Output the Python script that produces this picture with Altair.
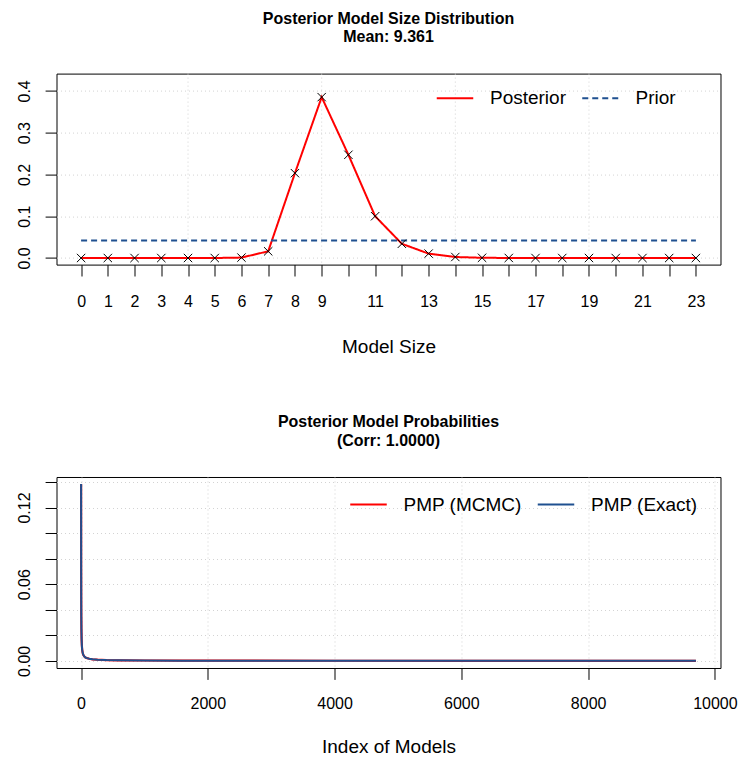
import altair as alt
import pandas as pd

FONT = "Liberation Sans"
RED = "#FF0000"
BLUE = "#1F5090"
GRID = "#D3D3D3"

# ---- posterior / prior model size distribution ----
model_size = list(range(24))
posterior = [0.0, 0.0, 0.0, 0.0, 0.0, 0.0, 0.001, 0.016, 0.203, 0.385, 0.247,
             0.100, 0.034, 0.0105, 0.0024, 0.0005, 0.0001, 0.0, 0.0, 0.0, 0.0,
             0.0, 0.0, 0.0]
prior = [0.0417, 0.0417, 0.0417, 0.0417, 0.0417, 0.0417, 0.0417, 0.0417,
         0.0417, 0.0417, 0.0417, 0.0417, 0.0417, 0.0417, 0.0417, 0.0417,
         0.0417, 0.0417, 0.0417, 0.0417, 0.0417, 0.0417, 0.0417, 0.0417]
size_ticks = list(range(24))
size_grid = [4, 9, 14, 19]
prob_ticks = [0.0, 0.1, 0.2, 0.3, 0.4]

# ---- posterior model probabilities (sorted by exact PMP) ----
model_index = [1, 2, 3, 4, 6, 9, 13, 18, 25, 35, 50, 70, 95, 130, 180, 260,
               400, 600, 1000, 1600, 2500, 4000, 6000, 8000, 9700]
pmp_mcmc = [0.1384, 0.0720, 0.0480, 0.0360, 0.0250, 0.0170, 0.0120, 0.0088,
            0.0065, 0.0048, 0.0035, 0.0026, 0.0021, 0.0016, 0.0012, 0.0009,
            0.0006, 0.0004, 0.00025, 0.00015, 0.0001, 0.00006, 0.00003,
            0.00002, 0.00001]
pmp_exact = [0.1384, 0.0720, 0.0480, 0.0360, 0.0250, 0.0170, 0.0120, 0.0088,
             0.0065, 0.0048, 0.0035, 0.0026, 0.0021, 0.0016, 0.0012, 0.0009,
             0.0006, 0.0004, 0.00025, 0.00015, 0.0001, 0.00006, 0.00003,
             0.00002, 0.00001]
index_ticks = [0, 2000, 4000, 6000, 8000, 10000]
pmp_ticks = [0.0, 0.02, 0.04, 0.06, 0.08, 0.10, 0.12, 0.14]

W, H = 664, 191

tick_style = dict(labelFont=FONT, labelFontSize=16, labelColor="black",
                  tickColor="black", tickSize=11.4, tickWidth=1, domain=False,
                  labelFlush=False, labelOverlap=False,
                  titleFont=FONT, titleFontSize=19, titleFontWeight="normal",
                  titleColor="black", gridColor=GRID, gridDash=[1, 3],
                  gridWidth=1)
y_style = dict(labelAngle=270, labelAlign="center", labelBaseline="alphabetic",
               labelPadding=15.8, **tick_style)

legend_style = dict(title=None, orient="none", direction="horizontal",
                    symbolType="stroke", symbolSize=36.5 ** 2,
                    symbolStrokeWidth=2, labelFont=FONT, labelFontSize=19,
                    labelColor="black", labelOffset=15.5, columnPadding=11.5,
                    padding=0)

# ---------- top panel ----------
size_long = pd.DataFrame({
    "size": model_size * 2,
    "prob": posterior + prior,
    "series": ["Posterior"] * len(model_size) + ["Prior"] * len(model_size),
})
post_df = pd.DataFrame({"size": model_size, "prob": posterior})
grid_df = pd.DataFrame({"size": size_grid})

x_size = alt.X("size:Q",
               scale=alt.Scale(domain=[-0.92, 23.92], nice=False, zero=False),
               axis=alt.Axis(values=size_ticks, grid=False, title="Model Size",
                             labelExpr="datum.value >= 10 && datum.value % 2 == 0 ? '' : datum.label",
                             labelPadding=18, labelBaseline="top",
                             titlePadding=28, **tick_style))
y_prob = alt.Y("prob:Q",
               scale=alt.Scale(domain=[-0.0158, 0.4413], nice=False, zero=False),
               axis=alt.Axis(values=prob_ticks, format=".1f", grid=True,
                             title=None, **y_style))

# dotted vertical guides at every fifth category
size_gridlines = alt.Chart(grid_df).mark_rule(
    color=GRID, strokeDash=[1, 3], strokeWidth=1
).encode(x=x_size)

top_legend = alt.Legend(legendX=379, legendY=4.9, **legend_style)
size_lines = alt.Chart(size_long).mark_line(strokeWidth=2).encode(
    x=x_size,
    y=y_prob,
    color=alt.Color("series:N",
                    scale=alt.Scale(domain=["Posterior", "Prior"], range=[RED, BLUE]),
                    legend=top_legend),
    strokeDash=alt.StrokeDash("series:N",
                              scale=alt.Scale(domain=["Posterior", "Prior"],
                                              range=[[1, 0], [6, 4]]),
                              legend=top_legend),
)
size_marks = alt.Chart(post_df).mark_point(
    shape="M-1,-1L1,1M-1,1L1,-1", filled=False, color="black",
    strokeWidth=1, size=70, opacity=1
).encode(x=x_size, y=y_prob)

top = alt.layer(size_gridlines, size_lines, size_marks).properties(
    width=W, height=H,
    title=alt.Title(text=["Posterior Model Size Distribution", "Mean: 9.361"],
                    font=FONT, fontSize=16, fontWeight="bold", color="black",
                    anchor="middle", lineHeight=18.5, baseline="bottom",
                    offset=11.7),
)

# ---------- bottom panel ----------
mcmc_df = pd.DataFrame({"index": model_index, "pmp": pmp_mcmc,
                        "series": "PMP (MCMC)"})
exact_df = pd.DataFrame({"index": model_index, "pmp": pmp_exact,
                         "series": "PMP (Exact)"})

x_index = alt.X("index:Q",
                scale=alt.Scale(domain=[-387, 10088], nice=False, zero=False),
                axis=alt.Axis(values=index_ticks, format="d", grid=True,
                              title="Index of Models", labelPadding=16.5,
                              labelBaseline="top", titlePadding=26,
                              **tick_style))
y_pmp = alt.Y("pmp:Q",
              scale=alt.Scale(domain=[-0.0056, 0.1439], nice=False, zero=False),
              axis=alt.Axis(values=pmp_ticks, grid=True, title=None,
                            labelExpr="abs(datum.value) < 1e-9 || abs(datum.value - 0.06) < 1e-9 || abs(datum.value - 0.12) < 1e-9 ? format(datum.value, '.2f') : ''",
                            **y_style))
pmp_color = alt.Color("series:N",
                      scale=alt.Scale(domain=["PMP (MCMC)", "PMP (Exact)"],
                                      range=[RED, BLUE]),
                      legend=alt.Legend(legendX=292.5, legendY=7.8, **legend_style))

mcmc_line = alt.Chart(mcmc_df).mark_line(strokeWidth=2.2).encode(
    x=x_index, y=y_pmp, color=pmp_color)
exact_line = alt.Chart(exact_df).mark_line(strokeWidth=2).encode(
    x=x_index, y=y_pmp, color=pmp_color)

bottom = alt.layer(mcmc_line, exact_line).properties(
    width=W, height=H,
    title=alt.Title(text=["Posterior Model Probabilities", "(Corr: 1.0000)"],
                    font=FONT, fontSize=16, fontWeight="bold", color="black",
                    anchor="middle", lineHeight=18.5, baseline="bottom",
                    offset=12),
)

chart = alt.vconcat(top, bottom, spacing=212.4, bounds="flush").resolve_scale(
    color="independent", strokeDash="independent"
).resolve_legend(
    color="independent", strokeDash="independent"
).properties(
    padding={"left": 15.5, "top": 9.6, "right": 3, "bottom": 0},
    background="white",
).configure_view(
    stroke="black", strokeWidth=1
)

chart.save("out.html", embed_options={"renderer": "svg", "actions": False})
